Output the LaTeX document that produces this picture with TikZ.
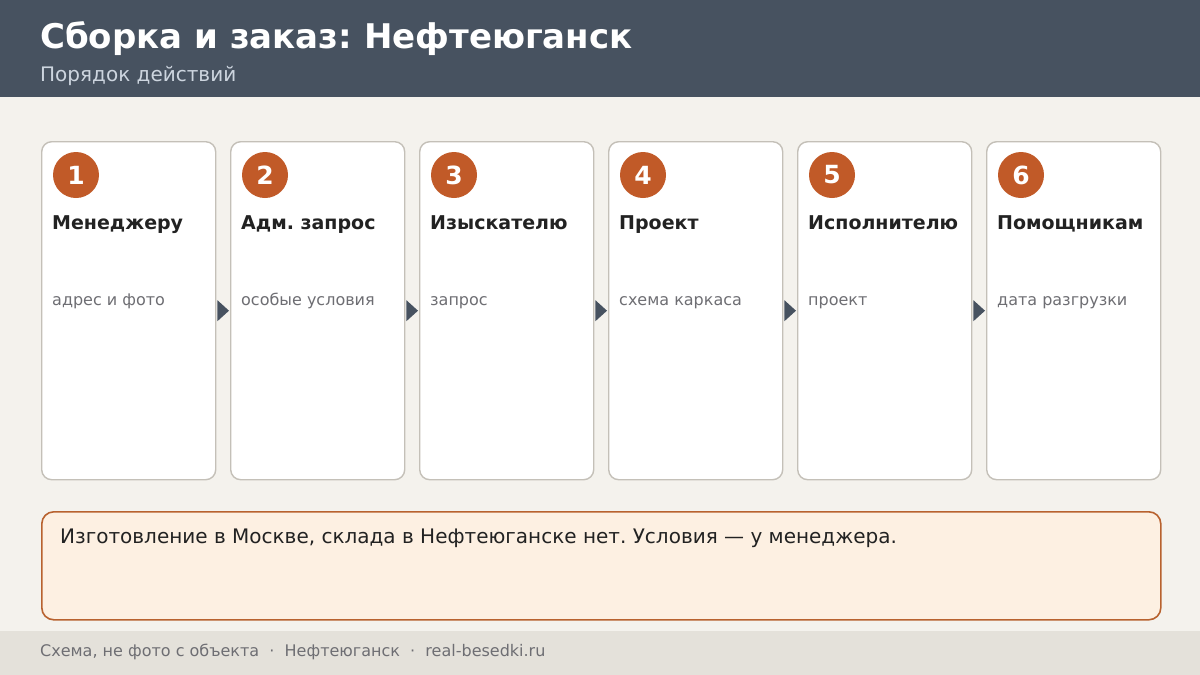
\documentclass[tikz,border=0pt]{standalone}
\usepackage{fontspec}
\setmainfont{DejaVu Sans}
\usetikzlibrary{calc, positioning}
\frenchspacing

\definecolor{headbg}{HTML}{475260}
\definecolor{headsub}{HTML}{CDD5DF}
\definecolor{pagebg}{HTML}{F4F2ED}
\definecolor{cardline}{HTML}{C4C0B8}
\definecolor{accent}{HTML}{C15A28}
\definecolor{darktext}{HTML}{222222}
\definecolor{graytext}{HTML}{6E6E73}
\definecolor{notebg}{HTML}{FDF0E2}
\definecolor{noteline}{HTML}{B8622F}
\definecolor{footbg}{HTML}{E4E1DA}

\begin{document}
\begin{tikzpicture}[x=1pt, y=-1pt,
  card/.style={draw=cardline, fill=white, rounded corners=10pt, line width=1.4pt,
    minimum width=174pt, minimum height=338pt, inner sep=0pt, anchor=north west},
  stepnum/.style={circle, fill=accent, minimum size=46pt, inner sep=0pt,
    text=white, font=\fontsize{25}{29}\selectfont\bfseries},
  steptitle/.style={anchor=base west, inner sep=0pt, text=darktext,
    font=\fontsize{19}{22}\selectfont\bfseries},
  stepdesc/.style={anchor=base west, inner sep=0pt, text=graytext,
    font=\fontsize{16}{19}\selectfont}
 ]
 \useasboundingbox (0,0) rectangle (1200,675);
 \fill[pagebg] (0,0) rectangle (1200,675);

 % header
 \fill[headbg] (0,0) rectangle (1200,97);
 \node[anchor=base west, inner sep=0pt, text=white,
   font=\fontsize{34}{40}\selectfont\bfseries] (title) at (40,48)
   {Сборка и заказ:\ Нефтеюганск};
 \node[anchor=base west, inner sep=0pt, text=headsub,
   font=\fontsize{20}{24}\selectfont] (subtitle) at (40,81)
   {Порядок действий};

 % cards
 \foreach \i/\name/\desc in {1/Менеджеру/адрес и фото,
   2/Адм. запрос/особые условия, 3/Изыскателю/запрос,
   4/Проект/схема каркаса, 5/Исполнителю/проект,
   6/Помощникам/дата разгрузки} {
  \node[card] (card\i) at ({41+189*(\i-1)},141) {};
  \node[stepnum] (num\i) at ($(card\i.north west)+(35,34)$) {\i};
  \node[steptitle] (name\i) at ($(card\i.north west)+(11,88)$) {\name};
  \node[stepdesc] (desc\i) at ($(card\i.north west)+(11,164)$) {\desc};
 }

 % arrows
 \foreach \i [evaluate=\i as \j using int(\i+1)] in {1,...,5} {
  \fill[headbg] ($(card\i.east)+(1,10.5)$) -- ($(card\j.west)+(-1,0)$)
    -- ($(card\i.east)+(1,-10.5)$) -- cycle;
 }

 % note
 \node[draw=noteline, fill=notebg, line width=1.6pt, rounded corners=12pt,
   minimum width=1119pt, minimum height=108pt, inner sep=0pt,
   anchor=north west] (note) at (41,511) {};
 \node[anchor=base west, inner sep=0pt, text=darktext,
   font=\fontsize{20}{24}\selectfont] (notetext) at ($(note.north west)+(19,32)$)
   {Изготовление в Москве, склада в Нефтеюганске нет. Условия — у менеджера.};

 % footer
 \fill[footbg] (0,631) rectangle (1200,675);
 \node[anchor=base west, inner sep=0pt, text=graytext,
   font=\fontsize{16}{19}\selectfont] (footer) at (40,656)
   {Схема, не фото с объекта\ \ ·\ \ Нефтеюганск\ \ ·\ \ real-besedki.ru};
\end{tikzpicture}
\end{document}
